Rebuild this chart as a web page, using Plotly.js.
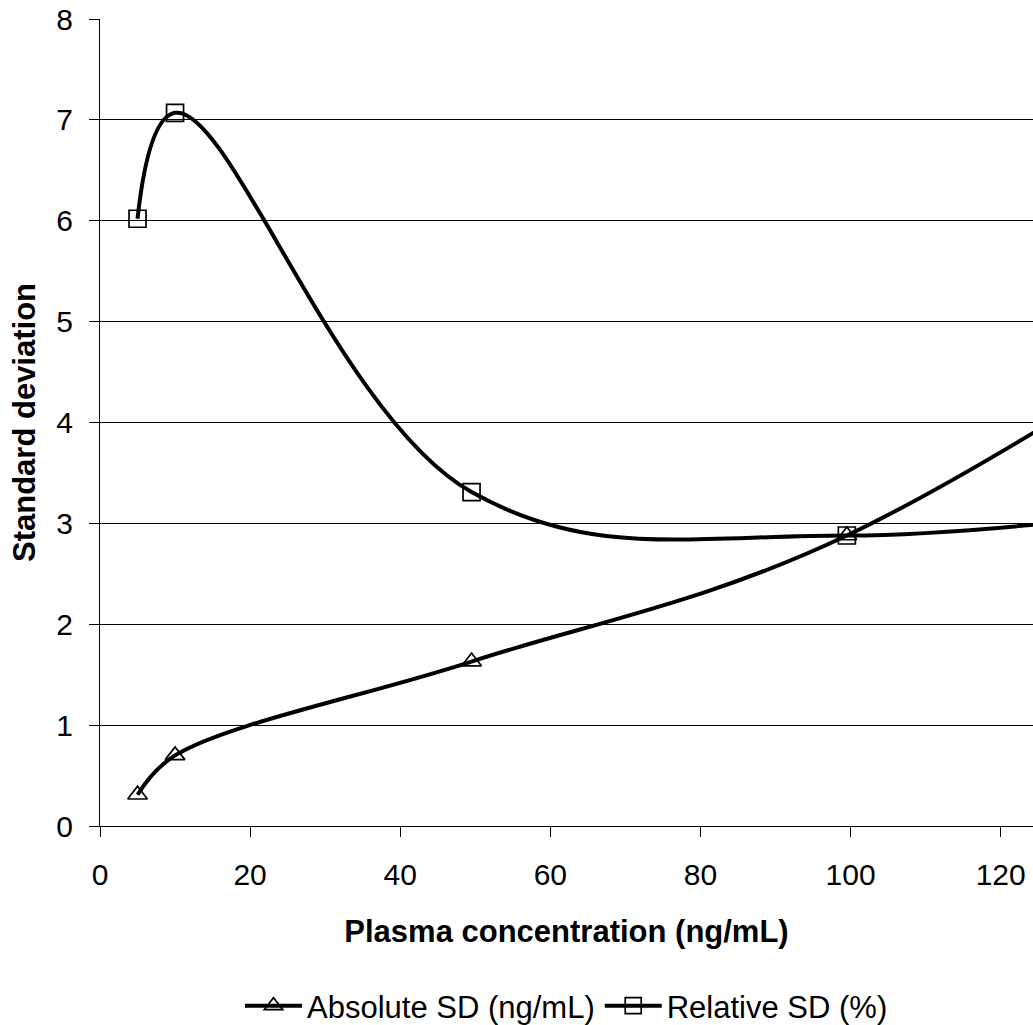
<!DOCTYPE html>
<html>
<head>
<meta charset="utf-8">
<script src="https://cdn.plot.ly/plotly-3.0.1.min.js"></script>
<style>html,body{margin:0;padding:0;background:#fff;}#chart{width:1033px;height:1025px;}</style>
</head>
<body>
<div id="chart"></div>
<script>
const concentration = [5, 10, 49.5, 99.5, 200];
const absoluteSD = [0.31, 0.70, 1.63, 2.88, 7.6];
const relativeSD = [6.02, 7.07, 3.31, 2.88, 3.8];
const seriesNames = ['Absolute SD (ng/mL)', 'Relative SD (%)'];
const yTicks = [0, 1, 2, 3, 4, 5, 6, 7, 8];
const xTicks = [0, 20, 40, 60, 80, 100, 120];

const font = 'Liberation Sans, Arial, sans-serif';
const traces = [
  {
    x: concentration, y: absoluteSD, name: seriesNames[0], type: 'scatter', mode: 'lines+markers',
    line: {color: '#000', width: 4, shape: 'spline', smoothing: 1},
    marker: {symbol: 'triangle-up-open', size: 17, color: '#000', line: {width: 1.7, color: '#000'}}
  },
  {
    x: concentration, y: relativeSD, name: seriesNames[1], type: 'scatter', mode: 'lines+markers',
    line: {color: '#000', width: 4, shape: 'spline', smoothing: 1.1},
    marker: {symbol: 'square-open', size: 17, color: '#000', line: {width: 1.7, color: '#000'}}
  }
];
const layout = {
  width: 1033, height: 1025,
  margin: {l: 100, r: 0, t: 19, b: 199, autoexpand: false},
  paper_bgcolor: '#fff', plot_bgcolor: '#fff',
  font: {family: font, size: 30, color: '#000'},
  showlegend: true,
  legend: {orientation: 'h', xref: 'paper', x: 0.5, xanchor: 'center', yref: 'container', y: 0.0185, yanchor: 'middle', font: {size: 31}, traceorder: 'normal', itemwidth: 57},
  xaxis: {
    range: [0, 124.3], tickvals: xTicks, ticktext: xTicks.map(String),
    showgrid: false, zeroline: false, showline: true, linecolor: '#000', linewidth: 1,
    ticks: 'outside', ticklen: 10, tickcolor: '#000', tickwidth: 1,
    tickfont: {size: 30}, ticklabelstandoff: 12,
    title: {text: '<b>Plasma concentration (ng/mL)</b>', font: {size: 31}, standoff: 30}
  },
  yaxis: {
    range: [0, 8], tickvals: yTicks, ticktext: yTicks.map(String),
    showgrid: true, gridcolor: '#000', gridwidth: 1,
    zeroline: false, showline: true, linecolor: '#000', linewidth: 1,
    ticks: 'outside', ticklen: 10, tickcolor: '#000', tickwidth: 1,
    tickfont: {size: 30}, ticklabelstandoff: 10,
    title: {text: '<b>Standard deviation</b>', font: {size: 31}, standoff: 11}
  }
};
Plotly.newPlot('chart', traces, layout, {displayModeBar: false, staticPlot: true});
</script>
</body>
</html>
